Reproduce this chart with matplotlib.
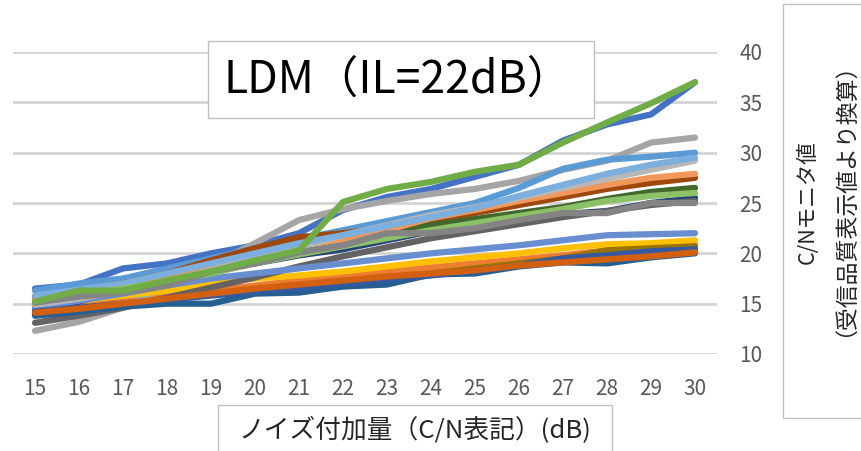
import matplotlib
matplotlib.use("Agg")
import matplotlib.pyplot as plt
from matplotlib.patches import Rectangle

plt.rcParams['font.family'] = ['Noto Sans CJK JP', 'DejaVu Sans']

W, H = 862, 451

# noise added (C/N notation, dB)
noise_db = list(range(15, 31))

# C/N monitor readings, one list per receiver
blue = [16.5, 16.9, 18.5, 19.0, 20.0, 20.8, 22.0, 24.3, 25.6, 26.4, 27.6, 28.8, 31.2, 32.8, 33.8, 37.0]
orange = [14.3, 14.8, 15.3, 15.8, 16.3, 16.8, 17.3, 17.8, 18.2, 18.6, 19.0, 19.4, 19.8, 20.3, 20.5, 20.8]
gray = [12.3, 13.2, 14.6, 16.8, 18.9, 21.0, 23.3, 24.4, 25.2, 25.9, 26.4, 27.2, 28.3, 29.2, 31.0, 31.5]
yellow = [14.8, 15.3, 15.8, 16.3, 17.0, 17.5, 17.8, 18.2, 18.7, 19.2, 19.6, 20.0, 20.5, 20.9, 21.0, 21.3]
light_blue = [16.3, 17.0, 17.5, 18.5, 19.5, 20.5, 21.4, 22.3, 23.2, 24.1, 25.0, 26.5, 28.4, 29.3, 29.6, 30.0]
green = [15.2, 16.3, 16.3, 17.3, 18.2, 19.3, 20.3, 25.1, 26.4, 27.1, 28.1, 28.8, 31.0, 33.0, 34.9, 37.0]
navy = [14.5, 15.2, 16.5, 17.8, 18.3, 19.0, 19.8, 20.4, 21.3, 22.2, 22.6, 23.2, 23.9, 24.2, 25.0, 25.5]
brown = [15.6, 16.3, 17.0, 18.0, 19.3, 20.5, 21.6, 22.0, 22.5, 23.2, 24.0, 24.8, 25.6, 26.4, 27.0, 27.5]
dark_gray = [13.1, 13.8, 14.6, 15.6, 16.6, 17.6, 18.7, 19.7, 20.6, 21.5, 22.2, 22.9, 23.6, 24.2, 24.8, 25.2]
olive = [14.0, 14.5, 14.9, 15.4, 15.9, 16.4, 16.8, 17.2, 17.6, 18.0, 18.5, 19.0, 19.5, 20.3, 20.5, 20.7]
steel_blue = [13.8, 14.2, 14.7, 15.0, 15.0, 16.0, 16.1, 16.7, 16.9, 17.9, 18.0, 18.7, 19.1, 19.0, 19.6, 20.0]
dark_green = [15.0, 15.8, 16.5, 17.6, 18.3, 19.2, 20.1, 20.8, 21.8, 22.8, 23.4, 24.0, 24.6, 25.4, 26.1, 26.5]
mid_blue = [14.6, 15.3, 16.0, 16.8, 17.5, 18.0, 18.5, 19.0, 19.5, 20.0, 20.4, 20.8, 21.3, 21.8, 21.9, 22.0]
light_orange = [15.4, 16.0, 16.6, 17.4, 18.6, 19.8, 20.8, 21.4, 22.3, 23.5, 24.3, 25.2, 26.0, 26.8, 27.5, 27.9]
light_gray = [14.9, 15.5, 16.3, 17.2, 18.3, 19.5, 20.6, 21.8, 22.8, 23.8, 24.6, 25.5, 26.5, 27.4, 28.3, 29.2]
pale_blue = [15.8, 16.4, 17.0, 18.0, 19.0, 20.0, 21.0, 21.8, 22.7, 23.6, 24.5, 25.7, 26.8, 27.9, 28.8, 29.5]
lime = [15.1, 15.9, 16.5, 17.2, 18.0, 19.0, 19.9, 20.7, 21.5, 22.3, 23.0, 23.7, 24.4, 25.2, 25.7, 26.0]
mid_gray = [15.1, 15.7, 16.1, 16.8, 18.2, 19.0, 20.1, 20.8, 22.0, 22.0, 22.5, 23.3, 24.0, 24.0, 25.0, 25.0]
royal_blue = [14.2, 14.6, 15.0, 15.4, 15.8, 16.2, 16.6, 17.0, 17.4, 17.8, 18.3, 18.8, 19.5, 19.8, 20.2, 20.4]
burnt_orange = [14.1, 14.5, 15.0, 15.5, 16.0, 16.5, 16.9, 17.3, 17.7, 18.0, 18.3, 18.8, 19.1, 19.4, 19.7, 20.1]

series = [
    (blue, '#4472C4'),
    (orange, '#ED7D31'),
    (gray, '#A5A5A5'),
    (yellow, '#FFC000'),
    (light_blue, '#5B9BD5'),
    (navy, '#264478'),
    (brown, '#9E480E'),
    (dark_gray, '#636363'),
    (olive, '#997300'),
    (steel_blue, '#255E91'),
    (dark_green, '#43682B'),
    (mid_blue, '#698ED0'),
    (light_orange, '#F1975A'),
    (light_gray, '#B7B7B7'),
    (pale_blue, '#7CAFDD'),
    (lime, '#8CC168'),
    (mid_gray, '#848484'),
    (royal_blue, '#335AA1'),
    (burnt_orange, '#D2600F'),
    (green, '#70AD47'),
]

y_ticks = [10, 15, 20, 25, 30, 35, 40]
tick_color = '#595959'

fig = plt.figure(figsize=(W / 100, H / 100), dpi=100)
ax = fig.add_axes([13 / W, (H - 354) / H, 704 / W, 302 / H])

for vals, col in series:
    ax.plot(noise_db, vals, color=col, lw=4.5, solid_capstyle='round',
            solid_joinstyle='round', zorder=3)

ax.set_xlim(14.5, 30.5)
ax.set_ylim(10, 40)
ax.set_xticks(noise_db)
ax.set_yticks(y_ticks)
ax.yaxis.tick_right()
ax.grid(axis='y', color='#D4D4D4', lw=2, zorder=1)
ax.set_axisbelow(True)
ax.tick_params(axis='both', length=0, labelsize=15, labelcolor=tick_color)
ax.tick_params(axis='y', pad=16)
ax.tick_params(axis='x', pad=17)
for s in ax.spines.values():
    s.set_visible(False)


def fig_box(x0, y0, x1, y1):
    fig.patches.append(Rectangle((x0 / W, 1 - y1 / H), (x1 - x0) / W, (y1 - y0) / H,
                                 transform=fig.transFigure, facecolor='white',
                                 edgecolor='#BFBFBF', lw=1, zorder=5))


# title box
fig_box(208, 41, 594, 118)
fig.text(224 / W, 1 - 80 / H, 'LDM（IL=22dB）', fontsize=32, color='black',
         ha='left', va='center', zorder=6)

# x-axis title box
fig_box(218, 405, 612, 460)
fig.text(238 / W, 1 - 430 / H, 'ノイズ付加量（C/N表記）(dB)', fontsize=18.5,
         color='#262626', ha='left', va='center', zorder=6)

# y-axis title box
fig_box(783, 4, 870, 418)
fig.text(808 / W, 1 - 202 / H, 'C/Nモニタ値', fontsize=15.5, color='#262626',
         rotation=90, ha='center', va='center', zorder=6)
fig.text(833 / W, 1 - 188 / H, '（受信品質表示値より換算）', fontsize=16.5,
         color='#262626', rotation=90, ha='center', va='center', zorder=6)

fig.savefig('out.png', dpi=100, facecolor='white')
